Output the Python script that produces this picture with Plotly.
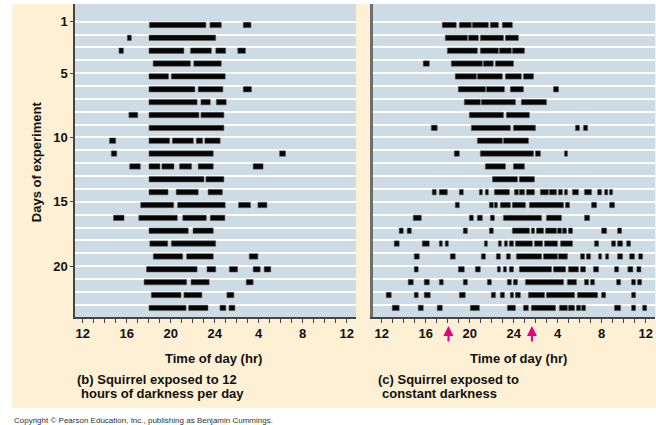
import plotly.graph_objects as go

# ---------------- data ----------------
days = list(range(1, 24))
hour_ticks = [12, 16, 20, 24, 28, 32, 36]
hour_tick_labels = ["12", "16", "20", "24", "4", "8", "12"]
day_ticks = [1, 5, 10, 15, 20]
arrow_hours = [18.07, 25.66]

# activity bouts (start hr, end hr) per day, panel (b): 12 h darkness per day
bouts_12h_dark = [
    [(18.06, 23.2), (23.57, 24.6), (26.6, 27.3)],
    [(16.06, 16.42), (18.03, 24.09)],
    [(15.3, 15.7), (18.03, 21.2), (21.8, 23.7), (24.1, 25.0), (26.1, 26.8)],
    [(18.4, 21.8), (22.1, 24.6)],
    [(18.03, 19.8), (20.06, 24.96)],
    [(18.03, 22.2), (22.5, 24.75), (26.6, 27.35)],
    [(18.03, 22.4), (22.75, 23.6), (24.15, 25.05)],
    [(16.2, 17.0), (18.03, 22.57), (22.75, 24.84)],
    [(18.03, 24.84)],
    [(14.43, 15.0), (18.03, 19.9), (20.15, 22.06), (22.33, 22.9), (23.1, 24.5)],
    [(14.6, 15.1), (18.03, 23.87), (29.9, 30.44)],
    [(16.27, 17.24), (18.03, 19.03), (19.2, 20.3), (20.8, 21.9), (22.5, 23.87), (27.5, 28.4)],
    [(18.03, 23.03), (23.2, 24.84)],
    [(18.03, 19.76), (20.5, 22.5), (23.4, 24.7)],
    [(17.27, 20.27), (20.63, 24.96), (26.17, 27.26), (27.93, 28.75)],
    [(14.8, 15.76), (17.1, 20.6), (21.1, 23.24), (23.6, 24.93)],
    [(18.03, 21.6), (22.03, 23.87)],
    [(18.1, 19.73), (20.06, 24.09)],
    [(18.42, 21.09), (21.45, 23.87), (27.14, 27.93)],
    [(17.8, 22.4), (23.3, 24.1), (25.33, 26.08), (27.5, 28.14), (28.5, 29.1)],
    [(17.58, 21.45), (21.85, 23.5), (26.87, 27.5)],
    [(18.24, 20.94), (21.2, 22.84), (25.11, 25.75)],
    [(18.03, 21.4), (21.63, 23.39), (24.48, 25.02), (25.3, 25.84)],
]

# panel (c): constant darkness
bouts_constant_dark = [
    [(17.51, 18.78), (19.06, 20.15), (20.24, 21.70), (21.88, 22.61), (22.97, 23.88)],
    [(17.78, 19.79), (19.88, 20.79), (20.97, 23.07), (23.25, 24.43)],
    [(17.97, 20.70), (20.97, 22.61), (22.70, 23.79), (23.88, 24.98)],
    [(15.78, 16.33), (18.33, 21.15), (21.24, 22.15), (22.34, 23.98)],
    [(18.69, 20.61), (20.70, 22.97), (23.25, 24.70), (24.89, 25.80)],
    [(18.97, 21.43), (21.52, 23.16), (23.70, 24.89), (27.62, 28.08)],
    [(19.51, 20.97), (21.06, 24.16), (24.70, 26.98)],
    [(19.97, 23.07), (23.34, 25.43)],
    [(16.51, 17.05), (20.15, 23.70), (23.98, 25.98), (29.62, 29.98), (30.35, 30.72)],
    [(20.70, 22.97), (23.07, 25.34)],
    [(18.60, 19.06), (20.97, 25.80), (25.98, 26.43), (28.62, 28.89)],
    [(21.43, 23.25), (23.98, 24.98)],
    [(22.07, 24.34), (24.52, 25.89)],
    [(16.60, 16.96), (17.24, 17.97), (19.06, 19.42), (20.88, 21.15), (21.43, 21.70),
     (22.25, 23.61), (24.07, 24.43), (24.52, 24.98), (25.16, 25.89), (26.43, 27.16),
     (27.25, 27.89), (28.07, 28.43), (28.62, 28.89), (29.35, 29.89), (30.44, 31.08),
     (31.63, 31.99), (32.27, 32.55), (32.72, 32.99)],
    [(18.69, 19.06), (21.79, 22.15), (22.25, 22.52), (22.79, 23.70), (23.88, 25.07),
     (25.43, 28.53), (28.71, 29.08), (31.08, 31.54), (32.72, 33.17)],
    [(14.87, 15.60), (19.97, 20.33), (20.70, 21.15), (21.88, 22.25), (23.07, 26.53),
     (26.98, 28.35), (30.44, 30.90)],
    [(13.59, 13.96), (14.32, 14.69), (19.42, 19.79), (21.79, 22.15), (23.88, 25.43),
     (25.61, 25.89), (26.07, 26.71), (26.89, 27.89), (27.98, 28.35), (28.44, 28.80),
     (28.98, 29.35), (31.99, 32.45), (33.45, 33.81)],
    [(13.14, 13.59), (15.69, 16.33), (17.24, 17.51), (17.78, 18.06), (21.34, 21.61),
     (22.61, 22.88), (23.16, 23.43), (23.61, 23.98), (24.16, 25.70), (25.89, 26.62),
     (26.80, 27.98), (28.26, 29.35), (31.35, 31.72), (32.90, 33.26), (33.45, 33.90),
     (34.27, 34.63)],
    [(14.96, 15.42), (18.24, 18.69), (21.06, 21.43), (22.43, 22.79), (23.34, 23.70),
     (24.25, 26.53), (26.71, 27.98), (28.07, 28.89), (30.08, 30.44), (30.62, 30.99),
     (31.72, 31.99), (32.36, 32.63), (33.45, 33.90), (34.54, 34.99), (35.36, 35.72)],
    [(14.96, 15.32), (18.97, 19.51), (20.52, 20.97), (22.52, 22.79), (23.07, 23.34),
     (23.61, 23.98), (24.52, 27.44), (27.62, 28.71), (28.98, 29.89), (30.08, 30.53),
     (31.26, 31.72), (33.17, 33.54), (34.38, 34.84), (35.20, 35.57)],
    [(14.41, 14.87), (15.87, 16.33), (17.24, 17.60), (19.42, 19.79), (21.61, 21.97),
     (23.43, 23.79), (23.98, 24.34), (25.07, 28.53), (28.89, 29.71), (30.44, 30.81),
     (30.99, 31.35), (33.36, 33.72), (34.72, 35.08), (35.27, 35.63)],
    [(12.41, 12.87), (14.96, 15.32), (15.87, 16.42), (19.06, 19.60), (21.97, 22.34),
     (22.79, 23.16), (23.70, 23.98), (24.16, 24.61), (25.34, 26.80), (26.98, 29.53),
     (29.80, 31.63), (31.99, 32.36), (34.72, 35.08)],
    [(12.96, 13.59), (15.32, 15.78), (17.05, 17.51), (20.06, 20.88), (23.43, 24.16),
     (24.89, 25.34), (25.61, 27.80), (28.16, 28.89), (28.98, 29.53), (29.71, 30.08),
     (30.17, 30.53), (33.17, 33.72), (34.72, 35.08), (35.72, 36.09)],
]

# ---------------- styling ----------------
W, H = 656, 425
CREAM = "#FEF0D4"
PLOT_BG = "#CDDCE4"
FONT = "Liberation Sans, Arial, sans-serif"
ROW_OFFSET = 0.25  # bars sit just below each day's line
BAR_W = 0.42


def px(x):
    return x / W


def py(y):
    return 1 - y / H


def bar_trace(bouts, xa, ya):
    ys, bases, lens = [], [], []
    for d, row in zip(days, bouts):
        for s, e in row:
            ys.append(d + ROW_OFFSET)
            bases.append(s)
            lens.append(e - s)
    return go.Bar(
        orientation="h", y=ys, x=lens, base=bases, width=BAR_W,
        marker=dict(color="#050505", line=dict(color="rgba(90,90,90,0.7)", width=0.8)),
        xaxis=xa, yaxis=ya, showlegend=False, hoverinfo="skip",
    )


fig = go.Figure()
fig.add_trace(bar_trace(bouts_12h_dark, "x", "y"))
fig.add_trace(bar_trace(bouts_constant_dark, "x2", "y2"))

ydom = [py(317), py(4)]
xaxis_common = dict(
    tickmode="array", tickvals=hour_ticks, ticktext=hour_tick_labels,
    ticks="outside", ticklen=4, tickwidth=1, tickcolor="#444",
    minor=dict(dtick=1, tick0=0, ticks="outside", ticklen=4, tickwidth=1, tickcolor="#444"),
    showgrid=False, zeroline=False, showline=True, linecolor="#444", linewidth=1.5,
    tickfont=dict(family=FONT, size=13, color="#111", weight="bold"),
    fixedrange=True,
)
yaxis_common = dict(
    range=[23.96, -0.38], tickmode="array", tickvals=day_ticks,
    showgrid=True, gridcolor="white", gridwidth=1.5,
    minor=dict(tickmode="array", tickvals=days, showgrid=True, gridcolor="white",
               gridwidth=1.5, ticks=""),
    zeroline=False, showline=True, domain=ydom, fixedrange=True,
)

fig.update_layout(
    width=W, height=H, margin=dict(l=0, r=0, t=0, b=0),
    paper_bgcolor=CREAM, plot_bgcolor=PLOT_BG, barmode="overlay",
    xaxis=dict(domain=[px(75), px(356)], range=[11.3, 36.85], anchor="y", **xaxis_common),
    xaxis2=dict(domain=[px(373), px(655)], range=[11.21, 36.85], anchor="y2", **xaxis_common),
    yaxis=dict(anchor="x", ticks="outside", ticklen=3, tickcolor="#444",
               linecolor="#444", linewidth=1.5,
               tickfont=dict(family=FONT, size=13, color="#111", weight="bold"),
               **yaxis_common),
    yaxis2=dict(anchor="x2", ticks="", showticklabels=False,
                linecolor="#6E6E6E", linewidth=2.5, **yaxis_common),
)

# white border outside the cream panel
for x0, x1, y0, y1 in [(0, 12, 0, H), (0, W, 0, 4), (0, W, 408, H)]:
    fig.add_shape(type="rect", xref="paper", yref="paper", x0=px(x0), x1=px(x1),
                  y0=py(y1), y1=py(y0), fillcolor="white", line=dict(width=0), layer="below")

bold = dict(family=FONT, size=13, color="#111")
ann = [
    dict(text="<b>Days of experiment</b>", x=px(36.7), y=py(161.5), textangle=-90,
         xanchor="center", yanchor="middle"),
    dict(text="<b>Time of day (hr)</b>", x=px(213.5), y=py(358), xanchor="center", yanchor="middle"),
    dict(text="<b>Time of day (hr)</b>", x=px(518.5), y=py(358), xanchor="center", yanchor="middle"),
    dict(text="<b>(b) Squirrel exposed to 12</b>", x=px(74.5), y=py(379), xanchor="left", yanchor="middle"),
    dict(text="<b>hours of darkness per day</b>", x=px(78.5), y=py(393.5), xanchor="left", yanchor="middle"),
    dict(text="<b>(c) Squirrel exposed to</b>", x=px(375.5), y=py(379), xanchor="left", yanchor="middle"),
    dict(text="<b>constant darkness</b>", x=px(380), y=py(393.5), xanchor="left", yanchor="middle"),
]
for a in ann:
    fig.add_annotation(xref="paper", yref="paper", showarrow=False, font=bold, **a)

fig.add_annotation(text="Copyright © Pearson Education, Inc., publishing as Benjamin Cummings.",
                   xref="paper", yref="paper", x=px(12), y=py(420), xanchor="left",
                   yanchor="middle", showarrow=False,
                   font=dict(family=FONT, size=8, color="#333"))

for h in arrow_hours:
    fig.add_annotation(x=h, xref="x2", y=py(326), yref="paper", text="", showarrow=True,
                       ax=0, ay=17, arrowhead=2, arrowsize=1, arrowwidth=2,
                       arrowcolor="#E6007E")

fig.write_html("out.html")
